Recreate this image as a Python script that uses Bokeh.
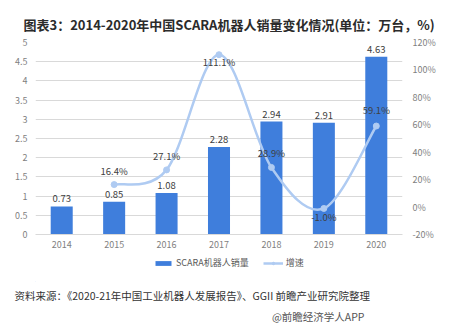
from bokeh.plotting import figure
from bokeh.layouts import column
from bokeh.models import (Range1d, LinearAxis, FixedTicker, Legend, LegendItem, Title,
                          ColumnDataSource, CustomJSTickFormatter)
from bokeh.core.properties import value
from bokeh.embed import file_html
from bokeh.resources import INLINE

years = ["2014", "2015", "2016", "2017", "2018", "2019", "2020"]
sales = [0.73, 0.85, 1.08, 2.28, 2.94, 2.91, 4.63]
growth_years = ["2015", "2016", "2017", "2018", "2019", "2020"]
growth = [16.4, 27.1, 111.1, 28.9, -1.0, 59.1]
left_ticks = [0, 0.5, 1, 1.5, 2, 2.5, 3, 3.5, 4, 4.5, 5]
right_ticks = [-20, 0, 20, 40, 60, 80, 100, 120]

FS = "Noto Sans CJK SC"
FONT = value(FS)
BAR = "#3F7EDC"
LINE = "#AFCBF2"

p = figure(width=453, height=255, output_backend="svg", toolbar_location=None,
           x_range=Range1d(-0.5, 6.5), y_range=Range1d(0, 5),
           min_border_left=35, min_border_right=51, min_border_top=42, min_border_bottom=21)
p.extra_y_ranges = {"g": Range1d(-20, 120)}
p.outline_line_color = None
p.background_fill_color = "white"
p.border_fill_color = "white"

xi = list(range(len(years)))
gx = [years.index(y) for y in growth_years]

# axes
p.xaxis.ticker = FixedTicker(ticks=xi)
p.xaxis.formatter = CustomJSTickFormatter(args=dict(labels=years),
                                          code="return labels[Math.round(tick)] || '';")
p.xaxis.axis_line_color = "#D9D9D9"
p.xaxis.major_tick_line_color = None
p.xaxis.minor_tick_line_color = None
p.xaxis.major_tick_out = 0
p.xaxis.major_tick_in = 0
p.xaxis.major_label_text_font = FS
p.xaxis.major_label_text_font_size = "9px"
p.xaxis.major_label_text_color = "#7F7F7F"
p.xaxis.major_label_standoff = 6

p.yaxis.ticker = FixedTicker(ticks=left_ticks)
p.yaxis.formatter = CustomJSTickFormatter(code="return tick.toString();")
p.yaxis.axis_line_color = None
p.yaxis.major_tick_line_color = None
p.yaxis.minor_tick_line_color = None
p.yaxis.major_tick_out = 0
p.yaxis.major_tick_in = 0
p.yaxis.major_label_text_font = FS
p.yaxis.major_label_text_font_size = "9px"
p.yaxis.major_label_text_color = "#7F7F7F"
p.yaxis.major_label_standoff = 8

ra = LinearAxis(y_range_name="g", ticker=FixedTicker(ticks=right_ticks),
                formatter=CustomJSTickFormatter(code="return tick + '%';"))
ra.axis_line_color = None
ra.major_tick_line_color = None
ra.minor_tick_line_color = None
ra.major_tick_out = 0
ra.major_tick_in = 0
ra.major_label_text_font = FS
ra.major_label_text_font_size = "9px"
ra.major_label_text_color = "#7F7F7F"
ra.major_label_standoff = 10
p.add_layout(ra, "right")

p.xgrid.grid_line_color = None
p.ygrid.grid_line_color = "#D9D9D9"
p.ygrid.grid_line_width = 1

# bars
bsrc = ColumnDataSource(dict(x=xi, top=sales, lab=[f"{v:.2f}" for v in sales]))
bars = p.vbar(x="x", top="top", width=0.42, source=bsrc, fill_color=BAR, line_color=None)
p.text(x="x", y="top", text="lab", source=bsrc, text_align="center", text_baseline="bottom",
       y_offset=-4, text_font=FONT, text_font_size="9.5px", text_color="#404040")

# smoothed growth line (Catmull-Rom style Bezier through the data points)
n = len(gx)
def pt(i):
    i = min(max(i, 0), n - 1)
    return gx[i], growth[i]
x0, y0, x1, y1, cx0, cy0, cx1, cy1 = [], [], [], [], [], [], [], []
for i in range(n - 1):
    pa, pb, pc, pd = pt(i - 1), pt(i), pt(i + 1), pt(i + 2)
    x0.append(pb[0]); y0.append(pb[1]); x1.append(pc[0]); y1.append(pc[1])
    cx0.append(pb[0] + (pc[0] - pa[0]) / 6); cy0.append(pb[1] + (pc[1] - pa[1]) / 6)
    cx1.append(pc[0] - (pd[0] - pb[0]) / 6); cy1.append(pc[1] - (pd[1] - pb[1]) / 6)
p.bezier(x0=x0, y0=y0, x1=x1, y1=y1, cx0=cx0, cy0=cy0, cx1=cx1, cy1=cy1,
         y_range_name="g", line_color=LINE, line_width=2.5)
gsrc = ColumnDataSource(dict(x=gx, y=growth, lab=[f"{v:.1f}%" for v in growth],
                             dy=[-14, -14, 7, -14, 9, -16]))
p.scatter(x="x", y="y", source=gsrc, y_range_name="g", size=6,
          fill_color=LINE, line_color=LINE)
p.text(x="x", y="y", text="lab", source=gsrc, y_range_name="g", text_align="center",
       text_baseline="middle", y_offset="dy", text_font=FONT, text_font_size="9.5px",
       text_color="#404040")

p.add_layout(Title(text="图表3：2014-2020年中国SCARA机器人销量变化情况(单位：万台，%)",
                   align="left", offset=-12, standoff=18, text_font=FS,
                   text_font_size="13px", text_font_style="bold", text_color="#2B2B2B"),
             "above")

# lower strip: legend (in frame) and source notes (as side-panel titles)
q = figure(width=453, height=68, output_backend="svg", toolbar_location=None,
           x_axis_type=None, y_axis_type=None, x_range=Range1d(0, 1), y_range=Range1d(0, 1),
           min_border_left=35, min_border_right=51, min_border_top=0, min_border_bottom=38)
q.grid.visible = False
q.outline_line_color = None
q.background_fill_color = "white"
q.border_fill_color = "white"
# legend proxies kept outside the visible range
lbar = q.vbar(x=[-1000], top=[-1000], width=1, fill_color=BAR, line_color=None)
lline = q.line(x=[-1000, -999], y=[-1000, -1000], line_color=LINE, line_width=2.5)
lpt = q.scatter(x=[-1000], y=[-1000], size=5, fill_color=LINE, line_color=LINE)
legend = Legend(items=[LegendItem(label="SCARA机器人销量", renderers=[lbar]),
                       LegendItem(label="增速", renderers=[lline, lpt])],
                orientation="horizontal", location=(118, 12),
                label_text_font=FS, label_text_font_size="9px", label_text_color="#595959",
                glyph_width=20, glyph_height=6, spacing=14, padding=0, margin=0,
                border_line_color=None, background_fill_alpha=0, label_standoff=3)
q.add_layout(legend)
q.add_layout(Title(text="资料来源：《2020-21年中国工业机器人发展报告》、GGII 前瞻产业研究院整理",
                   align="left", offset=-21, standoff=8, text_font=FS,
                   text_font_size="10.5px", text_font_style="normal", text_color="#333333"),
             "below")
q.add_layout(Title(text="@前瞻经济学人APP", align="right", offset=38, standoff=0,
                   text_font=FS, text_font_size="10.5px", text_font_style="normal",
                   text_color="#555555"),
             "below")

open("out.html", "w").write(file_html(column(p, q, spacing=0), INLINE))
